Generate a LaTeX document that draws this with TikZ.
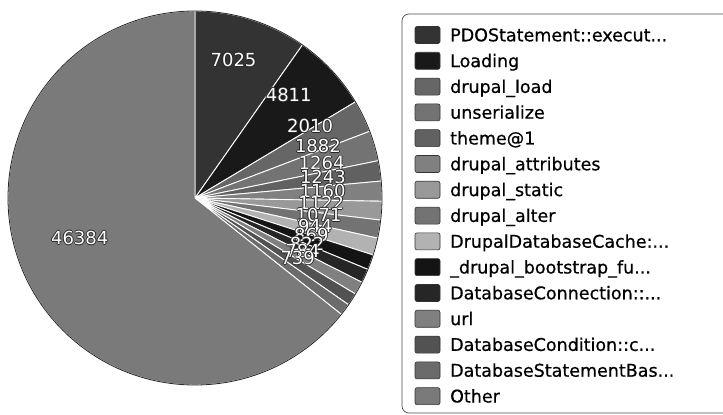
\documentclass[tikz,border=0pt]{standalone}
\usepackage{fontspec}
\setmainfont{DejaVu Sans}
\newfontfamily\legfont[FakeBold=0.6]{DejaVu Sans}
\usetikzlibrary{calc}

% slice colours (one per entry, shared by pie and legend)
\definecolor{s1}{gray}{0.20}
\definecolor{s2}{gray}{0.10}
\definecolor{s3}{gray}{0.40}
\definecolor{s4}{gray}{0.45}
\definecolor{s5}{gray}{0.38}
\definecolor{s6}{gray}{0.50}
\definecolor{s7}{gray}{0.60}
\definecolor{s8}{gray}{0.45}
\definecolor{s9}{gray}{0.70}
\definecolor{s10}{gray}{0.08}
\definecolor{s11}{gray}{0.15}
\definecolor{s12}{gray}{0.50}
\definecolor{s13}{gray}{0.32}
\definecolor{s14}{gray}{0.42}
\definecolor{s15}{gray}{0.48}

% truncation mark for long legend names
\newcommand\trunc{...}

% white digits with a dark rim
\newcommand\halotext[1]{%
  \makebox[0pt][l]{\color{black!85}\hspace*{-0.9pt}#1}%
  \makebox[0pt][l]{\color{black!85}\hspace*{0.9pt}#1}%
  \makebox[0pt][l]{\color{black!85}\raisebox{0.9pt}{#1}}%
  \makebox[0pt][l]{\color{black!85}\raisebox{-0.9pt}{#1}}%
  {\color{white}#1}}

\tikzset{
  slice/.style={draw=white, line width=0.9pt, line join=round},
  pielabel/.style={inner sep=0pt, font=\fontsize{18}{20}\selectfont},
  swatch/.style={draw=black!80, line width=0.6pt, rounded corners=2pt,
                 minimum width=25pt, minimum height=17pt, inner sep=0pt},
  legtext/.style={anchor=base west, inner sep=0pt,
                  font=\legfont\fontsize{17.5}{20}\selectfont},
  legbox/.style={draw=black!70, line width=0.7pt, rounded corners=7pt}
}

\begin{document}
\begin{tikzpicture}[x=1pt, y=1pt]
  \useasboundingbox (0,0) rectangle (723,415);
  \clip (0,0) rectangle (723,415);
  \fill[white] (0,0) rectangle (723,415);

  % pie
  \coordinate (c) at (195,217);
  \def\R{187}
  \foreach \s/\e/\col in {
      90/54.94/s1, 54.94/30.93/s2, 30.93/20.90/s3,
      20.90/11.51/s4, 11.51/5.20/s5, 5.20/-1.00/s6,
      -1.00/-6.79/s7, -6.79/-12.39/s8, -12.39/-17.74/s9,
      -17.74/-22.45/s10, -22.45/-26.79/s11, -26.79/-30.89/s12,
      -30.89/-34.80/s13, -34.80/-38.49/s14, -38.49/-270/s15}
  {
    \fill[\col, slice] (c) -- ++(\s:\R)
      arc[start angle=\s, end angle=\e, radius=\R] -- cycle;
  }
  \draw[black!85, line width=0.8pt] (c) circle[radius=\R];

  % value labels
  \foreach \s/\e/\v [count=\i] in {
      90/54.94/7025, 54.94/30.93/4811, 30.93/20.90/2010,
      20.90/11.51/1882, 11.51/5.20/1264, 5.20/-1.00/1243,
      -1.00/-6.79/1160, -6.79/-12.39/1122, -12.39/-17.74/1071,
      -17.74/-22.45/944, -22.45/-26.79/869, -26.79/-30.89/822,
      -30.89/-34.80/784, -34.80/-38.49/739, -38.49/-270/46384}
  {
    \path (c) ++({(\s+\e)/2}:128) ++(0,16)
      node[pielabel] (v\i) {\halotext{\v}};
  }

  % legend frame
  \draw[legbox] (402,2) rectangle (760,401);

  % legend entries
  \foreach \txt [count=\i] in {
      {PDOStatement::execut\trunc}, {Loading}, {drupal\_load}, {unserialize},
      {theme@1}, {drupal\_attributes}, {drupal\_static}, {drupal\_alter},
      {DrupalDatabaseCache:\trunc}, {\_drupal\_bootstrap\_fu\trunc},
      {DatabaseConnection::\trunc}, {url}, {DatabaseCondition::c\trunc},
      {DatabaseStatementBas\trunc}, {Other}}
  {
    \pgfmathsetmacro\yy{415-(35+25.8*(\i-1))}
    \node[swatch, fill=s\i] (k\i) at (427.5,\yy) {};
    \node[legtext] (t\i) at (450,\yy-6.3) {\txt};
  }
\end{tikzpicture}
\end{document}
